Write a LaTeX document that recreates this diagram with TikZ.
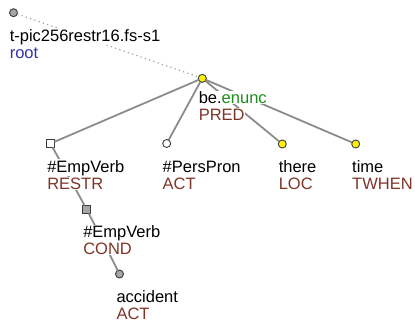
\documentclass[tikz,border=0pt]{standalone}
\usepackage{fontspec}
\setmainfont{Liberation Sans}
\definecolor{funccol}{RGB}{128,52,40}
\definecolor{rootcol}{RGB}{50,50,175}
\definecolor{lemcol}{RGB}{30,140,30}
\definecolor{edgecol}{RGB}{140,140,140}
\definecolor{markcol}{RGB}{60,60,60}
\definecolor{greyfill}{RGB}{165,165,165}
\begin{document}
\begin{tikzpicture}[x=1pt,y=-1pt,
  mark base/.style={draw=markcol,line width=0.9pt,inner sep=0pt,outer sep=0pt},
  ynode/.style={mark base,circle,minimum size=8pt,fill=yellow},
  wnode/.style={mark base,circle,minimum size=8pt,fill=white},
  gnode/.style={mark base,circle,minimum size=8pt,fill=greyfill},
  wsq/.style={mark base,rectangle,minimum size=8pt,fill=white},
  gsq/.style={mark base,rectangle,minimum size=8pt,fill=greyfill},
  edge/.style={draw=edgecol,line width=1.8pt},
  rootedge/.style={draw=edgecol!80,line width=1.2pt,dash pattern=on 1.3pt off 3.2pt},
  lab/.style={anchor=base west,fill=white,inner xsep=0.5pt,inner ysep=0.8pt,outer sep=0pt,
    font=\fontsize{16.5}{17}\selectfont}
]
\useasboundingbox (0,0) rectangle (415,325);
% markers
\node[gnode] (root) at (13.5,12.7) {};
\node[ynode] (be) at (202.3,78.3) {};
\node[wsq] (emp1) at (50.5,143.5) {};
\node[wnode] (pers) at (166.7,143.5) {};
\node[ynode] (there) at (282.3,144) {};
\node[ynode] (time) at (355.7,144) {};
\node[gsq] (emp2) at (86.8,209.5) {};
\node[gnode] (acc) at (119.5,274) {};
% connectors
\draw[rootedge] (root) -- (be);
\draw[edge] (be) -- (emp1);
\draw[edge] (be) -- (pers);
\draw[edge] (be) -- (there);
\draw[edge] (be) -- (time);
\draw[edge] (emp1) -- (emp2);
\draw[edge] (emp2) -- (acc);
% labels
\node[lab] (rootA) at (9.3,41) {t-pic256restr16.fs-s1};
\node[lab,text=rootcol] (rootB) at (9.3,58) {root};
\node[lab] (beA) at (198.3,103.5) {be.\textcolor{lemcol}{enunc}};
\node[lab,text=funccol] (beB) at (198.3,120.5) {PRED};
\node[lab] (emp1A) at (46.8,172) {\#EmpVerb};
\node[lab,text=funccol] (emp1B) at (46.8,189) {RESTR};
\node[lab] (persA) at (162.2,172) {\#PersPron};
\node[lab,text=funccol] (persB) at (162.2,189) {ACT};
\node[lab] (thereA) at (278.3,172.5) {there};
\node[lab,text=funccol] (thereB) at (278.3,189.5) {LOC};
\node[lab] (timeA) at (351.7,172.5) {time};
\node[lab,text=funccol] (timeB) at (351.7,189.5) {TWHEN};
\node[lab] (emp2A) at (82.8,237.5) {\#EmpVerb};
\node[lab,text=funccol] (emp2B) at (82.8,254.5) {COND};
\node[lab] (accA) at (116,302.5) {accident};
\node[lab,text=funccol] (accB) at (116,319.5) {ACT};
\end{tikzpicture}
\end{document}
